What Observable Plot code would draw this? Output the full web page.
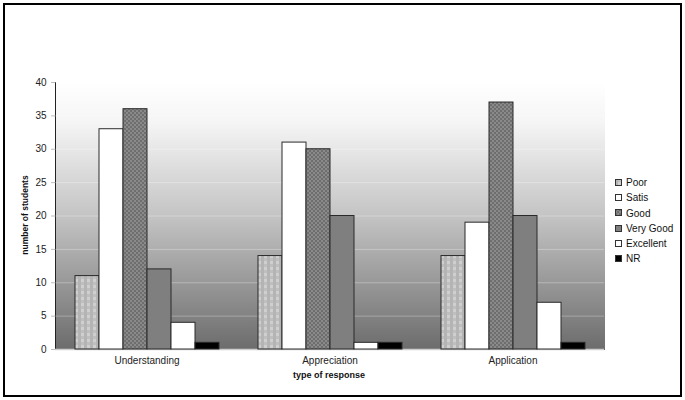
<!DOCTYPE html>
<html>
<head>
<meta charset="utf-8">
<script src="https://cdn.jsdelivr.net/npm/d3@7"></script>
<script src="https://cdn.jsdelivr.net/npm/@observablehq/plot@0.6"></script>
<style>
  html, body { margin: 0; padding: 0; background: #fff; }
  #wrap { position: relative; width: 685px; height: 400px; font-family: "Liberation Sans", Arial, sans-serif; overflow: hidden; }
  #frame { position: absolute; left: 3px; top: 3px; width: 679px; height: 394px; border: 2px solid #000; box-sizing: border-box; pointer-events: none; }
  .title { position: absolute; font-weight: bold; color: #111; white-space: nowrap; }
  #legend { position: absolute; left: 615px; top: 175px; font-size: 10px; color: #111; }
  #legend div { height: 15.3px; line-height: 15.3px; display: flex; align-items: center; }
  #legend svg { margin-right: 3px; }
</style>
</head>
<body>
<div id="wrap">
  <div id="chart"></div>
  <div class="title" id="ytitle" style="font-size:8.5px; left:25px; top:215px; transform: translate(-50%,-50%) rotate(-90deg);">number of students</div>
  <div class="title" id="xtitle" style="font-size:9px; left:329px; top:375px; transform: translate(-50%,-50%);">type of response</div>
  <div id="legend"></div>
  <div id="frame"></div>
</div>
<script>
const categories = ["Understanding", "Appreciation", "Application"];
const ratings = ["Poor", "Satis", "Good", "Very Good", "Excellent", "NR"];
const poor = [11, 14, 14];
const satis = [33, 31, 19];
const good = [36, 30, 37];
const veryGood = [12, 20, 20];
const excellent = [4, 1, 7];
const nr = [1, 1, 1];
const yTicks = [0, 5, 10, 15, 20, 25, 30, 35, 40];

const fills = ["url(#pPoor)", "#ffffff", "url(#pGood)", "#7f7f7f", "#ffffff", "#000000"];
const series = [poor, satis, good, veryGood, excellent, nr];

const rows = [];
categories.forEach((c, i) => {
  ratings.forEach((r, j) => rows.push({category: c, rating: r, value: series[j][i]}));
});

const svg = Plot.plot({
  width: 685,
  height: 400,
  marginLeft: 55,
  marginRight: 81,
  marginTop: 82,
  marginBottom: 51,
  style: {fontFamily: "Liberation Sans, Arial, sans-serif", fontSize: "10px", color: "#222", background: "transparent"},
  fx: {domain: categories, padding: 0, label: null, tickSize: 0, tickPadding: 7},
  x: {domain: ratings, paddingInner: 0, paddingOuter: 0.735, axis: null},
  y: {domain: [0, 40], ticks: yTicks, tickSize: 4, tickPadding: 5, label: null, line: true},
  color: {type: "ordinal", domain: ratings, range: fills},
  marks: [
    Plot.frame({fill: "url(#bgGrad)", stroke: "none", shapeRendering: "crispEdges"}),
    Plot.gridY(yTicks, {stroke: "#ffffff", strokeOpacity: 0.3}),
    Plot.ruleY([0], {stroke: "#cfcfcf", strokeWidth: 1.5}),
    Plot.barY(rows, {fx: "category", x: "rating", y: "value", fill: "rating", stroke: "#2a2a2a", strokeWidth: 1, inset: 0})
  ]
});

d3.select(svg).insert("defs", ":first-child").html(`
  <linearGradient id="bgGrad" x1="0" y1="0" x2="0" y2="1">
    <stop offset="0%" stop-color="#ffffff"/>
    <stop offset="15%" stop-color="#f5f5f5"/>
    <stop offset="50%" stop-color="#c4c4c4"/>
    <stop offset="100%" stop-color="#6c6c6c"/>
  </linearGradient>
  <pattern id="pPoor" width="6" height="6" patternUnits="userSpaceOnUse">
    <rect width="6" height="6" fill="#cfcfcf"/>
    <rect width="3" height="6" fill="#b4b4b4"/>
    <rect width="6" height="3" fill="#b4b4b4" opacity="0.6"/>
  </pattern>
  <pattern id="pGood" width="4" height="4" patternUnits="userSpaceOnUse">
    <rect width="4" height="4" fill="#8a8a8a"/>
    <rect width="2" height="2" fill="#6e6e6e"/>
    <rect x="2" y="2" width="2" height="2" fill="#6e6e6e"/>
  </pattern>
`);

d3.select(svg).selectAll("[aria-label^='y-axis'] path, [aria-label^='y-axis'] line").attr("stroke", "#bdbdbd");

document.getElementById("chart").appendChild(svg);

const legend = d3.select("#legend");
ratings.forEach((r, i) => {
  const row = legend.append("div");
  const s = row.append("svg").attr("width", 8).attr("height", 8);
  s.append("rect").attr("x", 0.5).attr("y", 0.5).attr("width", 6).attr("height", 6)
    .attr("fill", fills[i]).attr("stroke", "#333").attr("stroke-width", 1);
  row.append("span").text(r);
});
</script>
</body>
</html>
